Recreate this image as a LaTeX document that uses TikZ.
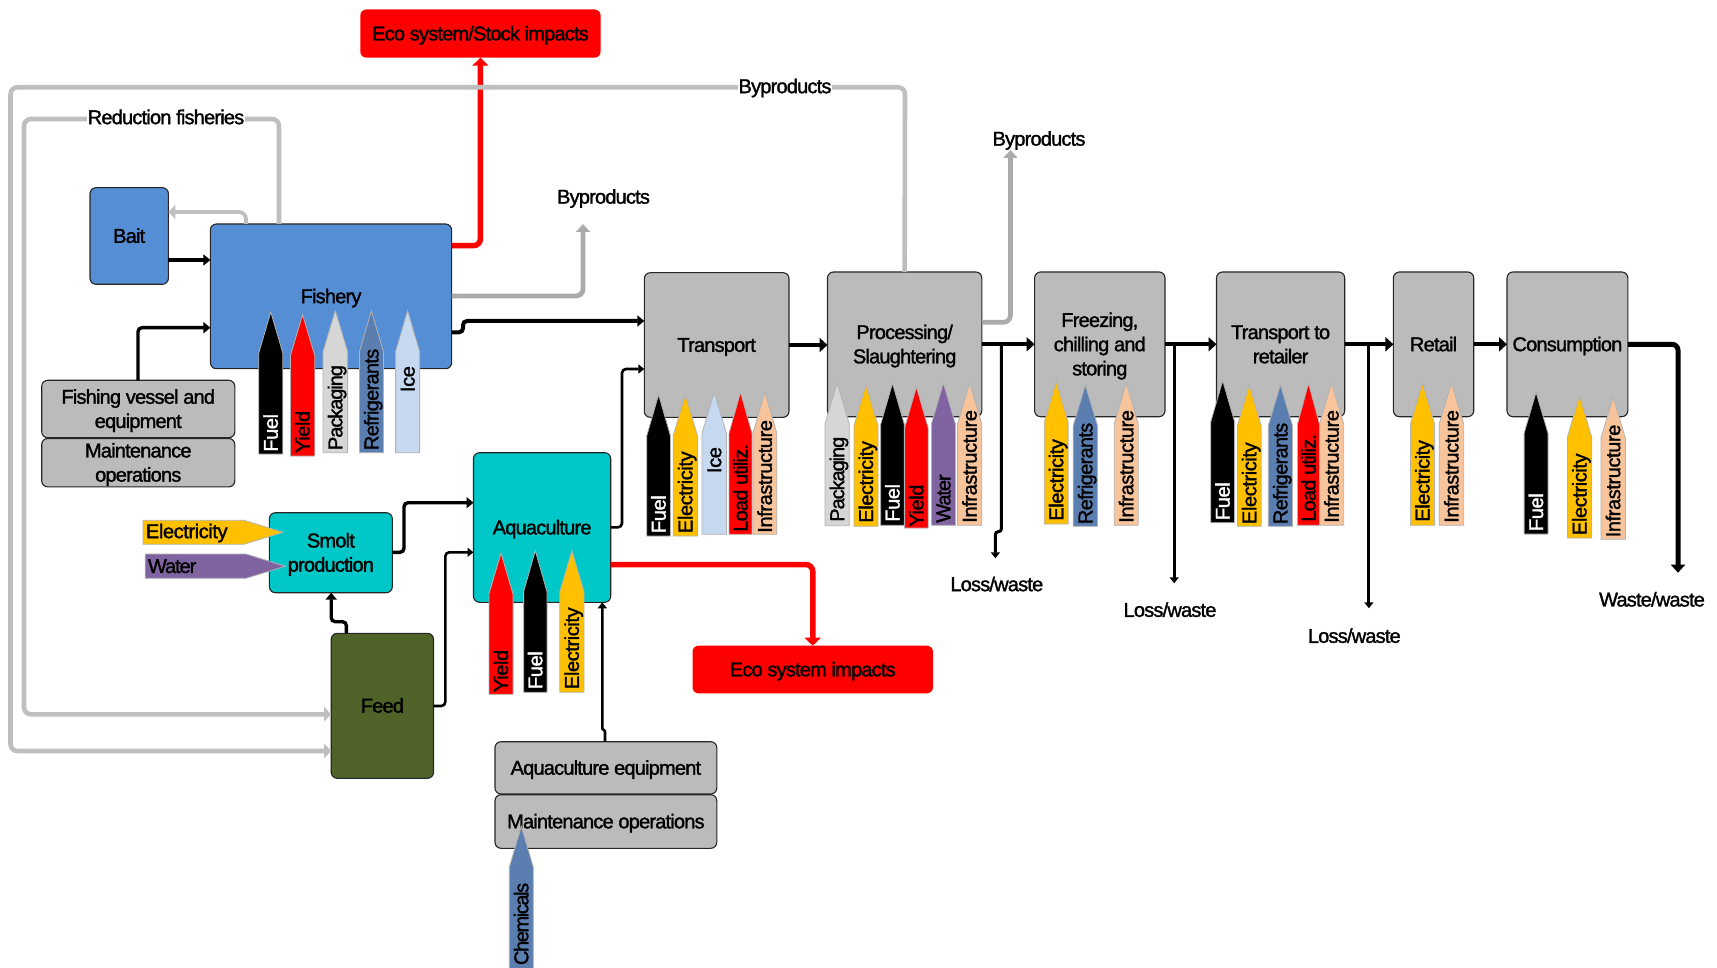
\documentclass[tikz,border=0pt]{standalone}
\usepackage{fontspec}
\setmainfont[LetterSpace=-2,FakeBold=1.5]{Liberation Sans}
\newfontfamily\hm[LetterSpace=-3.5,FakeBold=1.5]{Liberation Sans}
\newfontfamily\hf[LetterSpace=-4,FakeBold=1.5]{Liberation Sans}
\newfontfamily\hp[LetterSpace=-5.3,FakeBold=1.5]{Liberation Sans}
\newfontfamily\hs[LetterSpace=-7,FakeBold=1.5]{Liberation Sans}
\usetikzlibrary{arrows.meta,calc}
\definecolor{cblue}{HTML}{558ED5}
\definecolor{cteal}{HTML}{00C8C8}
\definecolor{cgray}{HTML}{BBBBBB}
\definecolor{cfeed}{HTML}{4F6228}
\definecolor{cyel}{HTML}{FFC000}
\definecolor{cref}{HTML}{5A7EB0}
\definecolor{cice}{HTML}{C6D9F1}
\definecolor{cpack}{HTML}{D6D6D6}
\definecolor{cwat}{HTML}{8064A2}
\definecolor{cinf}{HTML}{F8C49C}
\definecolor{lgray}{HTML}{BFBFBF}
\definecolor{mgray}{HTML}{ABABAB}
\tikzset{
  x=1pt,y=-1pt,
  every node/.style={font=\fontsize{20}{24.2}\selectfont,inner sep=0pt,outer sep=0pt},
  boxn/.style={draw=black!85,line width=1.1pt,rounded corners=6pt},
  redbox/.style={fill=red,rounded corners=6pt},
  tagline/.style={draw=black!30,line width=0.8pt},
  tagtext/.style={rotate=90,anchor=west,text height=15pt,text depth=1pt},
  lab/.style={font=\fontsize{20}{24.2}\hf},
  bk/.style={draw=black,line width=3.4pt,rounded corners=4pt,-{Triangle[length=7pt,width=11pt]}},
  bkthin/.style={draw=black,line width=2.6pt,rounded corners=4pt,-{Triangle[length=6pt,width=9pt]}},
  bkthick/.style={draw=black,line width=4.4pt,rounded corners=6pt,-{Triangle[length=8pt,width=14pt]}},
  gr/.style={draw=lgray,line width=4.6pt,rounded corners=7pt,-{Triangle[length=7pt,width=14pt]}},
  grd/.style={draw=mgray,line width=4.8pt,rounded corners=7pt,-{Triangle[length=8pt,width=14pt]}},
  rd/.style={draw=red,line width=5.5pt,rounded corners=7pt,-{Triangle[length=8pt,width=16pt]}},
}
% [style]{name}{x1}{y1}{x2}{y2}{text}
\newcommand\bx[7][]{%
  \pgfmathsetmacro\bcx{(#3+#5)/2}\pgfmathsetmacro\bcy{(#4+#6)/2}%
  \pgfmathsetmacro\bw{#5-#3}\pgfmathsetmacro\bh{#6-#4}%
  \node[#1,minimum width=\bw pt,minimum height=\bh pt] (#2) at (\bcx,\bcy) {\hf\raisebox{-2pt}[\height][\depth]{\begin{tabular}{@{}c@{}}#7\end{tabular}}};}
% {name}{x1}{x2}{tip}{bottom}{fill}{textcolor}{text}{text start y}
\newcommand\tg[9]{%
  \pgfmathsetmacro\tcx{(#2+#3)/2}\pgfmathsetmacro\tsh{#4+39}\pgfmathsetmacro\ttp{#4-2}%
  \path[tagline,fill=#6] (\tcx,\ttp) -- (#3,\tsh) -- (#3,#5) -- (#2,#5) -- (#2,\tsh) -- cycle;
  \node[tagtext,text=#7] (#1) at (\tcx,#9) {#8};}
\begin{document}
\begin{tikzpicture}
\useasboundingbox (0,0) rectangle (1717,968);
% boxes
\bx[redbox]{ecostock}{360.3}{9.5}{600.6}{57.7}{Eco system/Stock impacts}
\bx[boxn,fill=cblue]{bait}{90}{187.7}{168.4}{284.3}{Bait}
\bx[boxn,fill=cblue]{fishery}{210.4}{224}{451.6}{368.7}{Fishery}
\bx[boxn,fill=cgray]{vessel}{41.7}{380.3}{234.8}{437.7}{Fishing vessel and\\equipment}
\bx[boxn,fill=cgray]{maint}{41.7}{438.7}{234.8}{486.7}{Maintenance\\operations}
\bx[boxn,fill=cteal]{smolt}{269.4}{512.7}{392.3}{592.7}{Smolt\\production}
\bx[boxn,fill=cteal]{aqua}{473.5}{452.7}{610.7}{602.3}{Aquaculture}
\bx[boxn,fill=cfeed]{feed}{331.2}{633.3}{433.5}{778.3}{Feed}
\bx[boxn,fill=cgray]{aqeq}{495}{741.7}{716.8}{794}{Aquaculture equipment}
\bx[boxn,fill=cgray]{aqmt}{495}{794.7}{716.8}{848.3}{Maintenance operations}
\bx[redbox]{ecoimp}{692.5}{645.7}{933}{693.3}{Eco system impacts}
\bx[boxn,fill=cgray]{transport}{644.3}{272.7}{789}{417.3}{Transport}
\bx[boxn,fill=cgray]{proc}{827.5}{272}{981.8}{416.7}{Processing/\\Slaughtering}
\bx[boxn,fill=cgray]{freez}{1034.6}{272}{1165}{416.7}{Freezing,\\chilling and\\storing}
\bx[boxn,fill=cgray]{ttr}{1216.5}{272}{1344.7}{416.7}{Transport to\\retailer}
\bx[boxn,fill=cgray]{retail}{1393.4}{272}{1473.7}{416.7}{Retail}
\bx[boxn,fill=cgray]{cons}{1507}{272}{1627.8}{416.7}{Consumption}
% free labels
\node[lab] (byf) at (603.5,198.5) {Byproducts};
\node[lab] (byp) at (1039,140.5) {Byproducts};
\node[lab] (lossA) at (996.8,584) {Loss/waste};
\node[lab] (lossB) at (1170,609.7) {Loss/waste};
\node[lab] (lossC) at (1354.3,635.7) {Loss/waste};
\node[lab] (waste) at (1652,599.3) {Waste/waste};
\coordinate (bA) at (1001.4,344.3);
\coordinate (bB) at (1174.2,344.3);
\coordinate (bC) at (1368.9,344.3);
% red connectors
\draw[rd] (fishery.east |- 0,245.7) -| (ecostock.south);
\draw[rd] (aqua.east |- 0,564.5) -| (ecoimp.north);
% grey connectors
\draw[gr] (proc.north) -- (905,87.3) -- (10.5,87.3) -- (10.5,751) -- (feed.west |- 0,751);
\draw[gr] (279,0 |- fishery.north) -- (279,119) -- (24,119) -- (24,714.3) -- (feed.west |- 0,714.3);
\draw[gr,line width=3.8pt] (246,0 |- fishery.north) |- (bait.east |- 0,212);
\draw[grd] (fishery.east |- 0,296) -| (583,224);
\draw[grd] (proc.east |- 0,322.3) -| (1010.4,150);
\node[lab,fill=white,inner xsep=1pt,inner ysep=2pt] (redfish) at (166,117) {Reduction fisheries};
\node[lab,fill=white,inner xsep=1pt,inner ysep=2pt] (bytop) at (785,88) {Byproducts};
% black connectors
\draw[bk] (bait.east |- 0,260) -- (fishery.west |- 0,260);
\draw[bk] (138,0 |- vessel.north) |- (fishery.west |- 0,327.7);
\draw[bk,line width=4pt] (fishery.east |- 0,332.3) -- (463,332.3) -- (463,321) -- (transport.west |- 0,321);
\draw[bkthin] (aqua.east |- 0,527.3) -- (622,527.3) |- (transport.west |- 0,369);
\draw[bk] (smolt.east |- 0,552.3) -- (404,552.3) |- (aqua.west |- 0,502.7);
\draw[bkthin] (feed.east |- 0,706) -- (445.3,706) |- (aqua.west |- 0,552.3);
\draw[bk] (346.4,0 |- feed.north) -- (346.4,621.7) -- (331.2,621.7) -- (smolt.south -| 331.2,0);
\draw[bkthin,rounded corners=1.3pt] (605,0 |- aqeq.north) -- (605,730) -- (602.3,730) -- (aqua.south -| 602.3,0);
\draw[bkthick] (transport.east |- 0,345) -- (proc.west |- 0,345);
\draw[bkthick] (proc.east |- 0,344.3) -- (freez.west |- 0,344.3);
\draw[bkthick] (freez.east |- 0,344.3) -- (ttr.west |- 0,344.3);
\draw[bkthick] (ttr.east |- 0,344.3) -- (retail.west |- 0,344.3);
\draw[bkthick] (retail.east |- 0,344.3) -- (cons.west |- 0,344.3);
\draw[bkthick,line width=5pt] (cons.east |- 0,344.3) -| (1678,572.7);
\draw[bkthin,line width=3pt,rounded corners=2.8pt] (bA) -- (1001.4,531.7) -- (995.4,531.7) -- (995.4,558.3);
\draw[bkthin,line width=3pt] (bB) -- (1174.2,583.3);
\draw[bkthin,line width=3pt] (bC) -- (1368.9,608.3);
% horizontal tags
\path[tagline,fill=cyel] (143,520.3) -- (244,520.3) -- (283,532.3) -- (244,544.3) -- (143,544.3) -- cycle;
\node[anchor=west] (hel) at (146,533) {Electricity};
\path[tagline,fill=cwat] (145.2,554) -- (246,554) -- (285.4,566.2) -- (246,578.3) -- (145.2,578.3) -- cycle;
\node[anchor=west,font=\fontsize{20}{24.2}\hp] (hwa) at (148,566.2) {Water};
% fishery tags
\tg{f1}{258.8}{282.8}{314}{454}{black}{white}{Fuel}{451.7}
\tg{f2}{290.4}{314.8}{316.7}{456}{red}{black}{Yield}{453}
\tg{f3}{323}{347.6}{312.7}{452.7}{cpack}{black}{\hp Packaging}{450}
\tg{f4}{359.4}{383.4}{312.7}{452.7}{cref}{black}{\hm Refrigerants}{450}
\tg{f5}{395.6}{419.6}{312.7}{452.7}{cice}{black}{Ice}{392}
% aquaculture tags
\tg{a1}{489}{513}{555}{694.3}{red}{black}{Yield}{692}
\tg{a2}{523.6}{547}{552.7}{692.3}{black}{white}{Fuel}{689}
\tg{a3}{559.8}{584}{552.7}{692.3}{cyel}{black}{Electricity}{689}
\tg{ch}{509.3}{533.3}{828.3}{974}{cref}{black}{\hs Chemicals}{965}
% transport tags
\tg{t1}{646.8}{670.4}{396.7}{536}{black}{white}{Fuel}{533}
\tg{t2}{673.2}{697.5}{396.7}{536}{cyel}{black}{Electricity}{533}
\tg{t3}{702}{726.4}{394.3}{534.3}{cice}{black}{Ice}{473}
\tg{t4}{729}{752}{394.3}{534.3}{red}{black}{\hf Load utiliz.}{531.7}
\tg{t5}{752.9}{776.8}{394.3}{534.3}{cinf}{black}{Infrastructure}{532.7}
% processing tags
\tg{p1}{825}{849.3}{385}{525.7}{cpack}{black}{\hp Packaging}{521.7}
\tg{p2}{854}{878}{386.7}{526.3}{cyel}{black}{Electricity}{522.7}
\tg{p3}{880.7}{904.3}{385.3}{525.3}{black}{white}{Fuel}{521.7}
\tg{p4}{904.6}{928.2}{389}{528}{red}{black}{Yield}{526.7}
\tg{p5}{931.4}{955.4}{385}{525.3}{cwat}{black}{\hp Water}{522.7}
\tg{p6}{957.5}{981.8}{385}{525.3}{cinf}{black}{Infrastructure}{522.7}
% freezing tags
\tg{z1}{1044.3}{1068.2}{383.3}{524}{cyel}{black}{Electricity}{520.7}
\tg{z2}{1073.2}{1097.5}{386.7}{526.3}{cref}{black}{\hm Refrigerants}{524}
\tg{z3}{1114.3}{1138.2}{385}{525.3}{cinf}{black}{Infrastructure}{522.7}
% transport to retailer tags
\tg{r1}{1210.8}{1234.6}{382.7}{522.7}{black}{white}{Fuel}{520}
\tg{r2}{1237.4}{1261.2}{386.7}{526.3}{cyel}{black}{Electricity}{524}
\tg{r3}{1268.3}{1292.5}{386.7}{526.3}{cref}{black}{\hm Refrigerants}{524}
\tg{r4}{1297.5}{1319.5}{385.3}{525.3}{red}{black}{\hf Load utiliz.}{521.7}
\tg{r5}{1319.5}{1343.7}{385}{525.3}{cinf}{black}{Infrastructure}{522.7}
% retail tags
\tg{s1}{1410.4}{1434.6}{385}{525.3}{cyel}{black}{Electricity}{521.7}
\tg{s2}{1439.2}{1463.7}{385}{525.3}{cinf}{black}{Infrastructure}{522.7}
% consumption tags
\tg{c1}{1524.1}{1548}{394.3}{534}{black}{white}{Fuel}{531}
\tg{c2}{1567.5}{1591.6}{397.7}{538}{cyel}{black}{Electricity}{535}
\tg{c3}{1600.9}{1625.4}{399.3}{539.3}{cinf}{black}{Infrastructure}{537.3}
\end{tikzpicture}
\end{document}
